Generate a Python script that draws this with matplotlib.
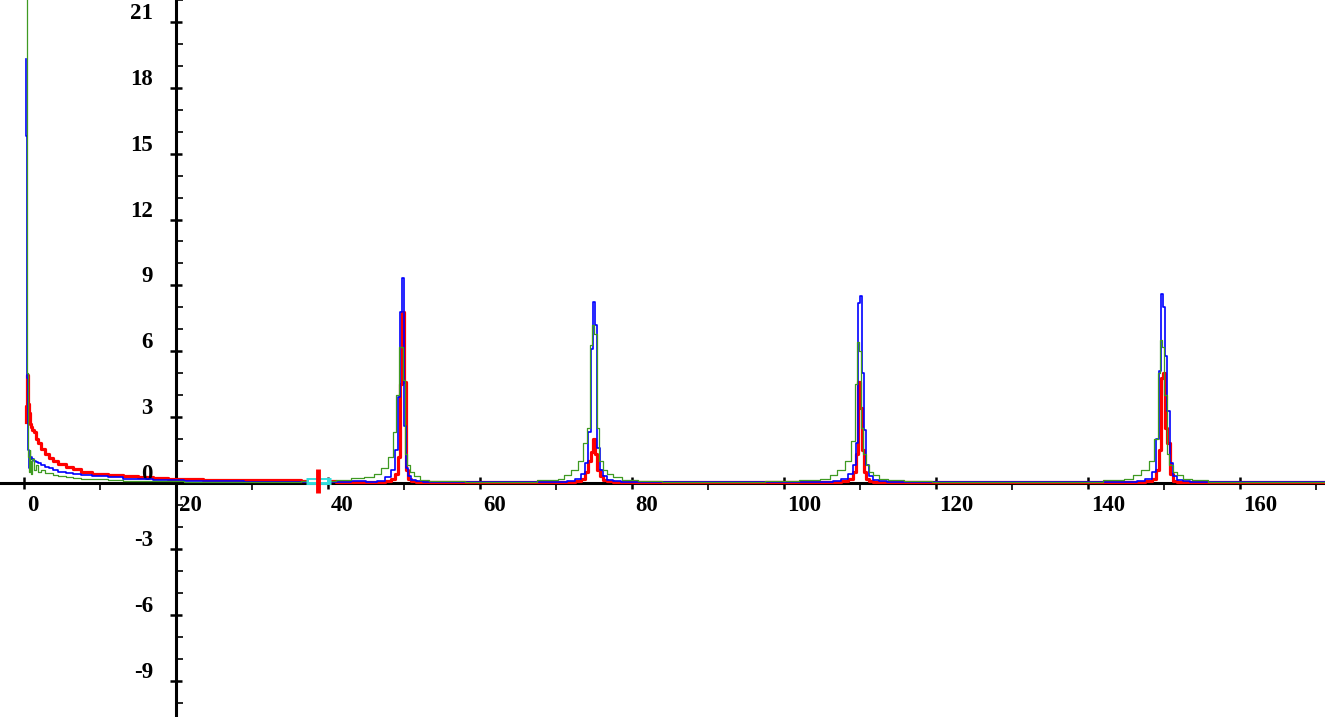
import matplotlib
matplotlib.use("Agg")
import matplotlib.pyplot as plt
from matplotlib.ticker import MultipleLocator

# frequency axis segments
low_x = [0.3, 0.35, 0.4, 0.45, 0.5, 0.6, 0.7, 0.8, 0.9, 1.0, 1.2, 1.4, 1.7, 2.0, 2.5,
         3.0, 3.5, 4.0, 5.0, 6.0, 7.0, 8.0, 10, 12, 14, 16, 18, 20, 22, 25, 28, 30,
         32, 35, 38, 40, 42, 44]
peak1_x = [46, 47, 48, 48.6, 49.0, 49.3, 49.6, 49.8, 50.1, 50.4, 50.7, 51.2, 52, 53, 54]
mid1_x = [56, 60, 65, 70]
peak2_x = [71, 72, 73, 73.6, 74.0, 74.4, 74.7, 75.0, 75.3, 75.6, 76.0, 76.5, 77, 78, 79]
mid2_x = [82, 86, 90, 95, 100, 104]
peak3_x = [106, 107, 108, 108.8, 109.3, 109.6, 109.9, 110.1, 110.4, 110.7, 111.0, 111.5, 112, 113, 114]
mid3_x = [117, 122, 128, 134, 140, 144]
peak4_x = [146, 147, 148, 148.8, 149.2, 149.5, 149.8, 150.0, 150.3, 150.6, 151.0, 151.5, 152, 153, 154]
tail_x = [157, 161, 165, 172]

# the green spectrum sits on a slightly different grid around the peaks
green_peak1_x = [45.5, 46.5, 47.5, 48.3, 48.8, 49.2, 49.5, 49.7, 50.0, 50.3, 50.6, 51.0, 51.6, 52.5, 54]
green_peak2_x = [70.5, 71.5, 72.5, 73.3, 73.9, 74.3, 74.6, 74.9, 75.2, 75.5, 75.9, 76.4, 77, 78, 79.5]
green_peak3_x = [105.5, 106.5, 107.5, 108.5, 109.1, 109.5, 109.8, 110.0, 110.3, 110.6, 110.9, 111.4, 112, 113, 114.5]
green_peak4_x = [145.5, 146.5, 147.5, 148.5, 149.0, 149.4, 149.7, 149.9, 150.2, 150.5, 150.9, 151.4, 152, 153, 154.5]

blue_low = [19.3, 15.8, 9.9, 4.8, 2.7, 1.5, 0.7, 0.95, 1.1, 1.2, 1.1, 1.0, 0.95, 0.9, 0.8,
            0.73, 0.66, 0.6, 0.52, 0.46, 0.41, 0.37, 0.3, 0.25, 0.2, 0.17, 0.14, 0.12,
            0.1, 0.08, 0.07, 0.06, 0.06, 0.05, 0.05, 0.05, 0.06, 0.08]
red_low = [2.8, 3.5, 4.9, 4.9, 4.2, 3.6, 3.2, 2.9, 2.7, 2.55, 2.4, 2.3, 2.0, 1.8, 1.55,
           1.3, 1.15, 1.02, 0.88, 0.75, 0.62, 0.52, 0.42, 0.35, 0.3, 0.26, 0.22, 0.2,
           0.17, 0.15, 0.14, 0.13, 0.12, 0.12, 0.1, 0.08, 0.06, 0.05]
green_low = [23, 23, 12, 5, 2.5, 1.2, 0.5, 1.5, 1.0, 0.4, 1.1, 0.6, 0.8, 0.5, 0.6,
             0.45, 0.45, 0.38, 0.32, 0.28, 0.24, 0.2, 0.16, 0.13, 0.1, 0.09, 0.08, 0.07,
             0.06, 0.05, 0.05, 0.05, 0.05, 0.06, 0.07, 0.1, 0.15, 0.22]

blue_p1 = [0.05, 0.1, 0.25, 0.6, 1.5, 3.9, 7.8, 9.35, 2.6, 0.7, 0.3, 0.15, 0.08, 0.05, 0.03]
red_p1 = [0.05, 0.05, 0.08, 0.2, 0.4, 1.2, 4.5, 7.8, 4.6, 0.6, 0.2, 0.1, 0.05, 0.03, 0.03]
green_p1 = [0.25, 0.4, 0.7, 1.2, 2.3, 4.0, 6.2, 6.2, 4.7, 1.3, 0.8, 0.5, 0.3, 0.15, 0.1]

blue_m1 = [0.04, 0.05, 0.04, 0.05]
red_m1 = [0.04, 0.03, 0.05, 0.04]
green_m1 = [0.07, 0.05, 0.06, 0.12]

blue_p2 = [0.05, 0.1, 0.2, 0.4, 0.9, 2.3, 6.1, 8.25, 7.2, 1.6, 0.6, 0.3, 0.15, 0.08, 0.05]
red_p2 = [0.03, 0.05, 0.1, 0.2, 0.5, 1.0, 1.4, 2.0, 1.3, 0.6, 0.3, 0.15, 0.08, 0.05, 0.03]
green_p2 = [0.2, 0.35, 0.6, 1.0, 1.8, 2.5, 6.3, 7.2, 6.8, 2.5, 1.0, 0.6, 0.4, 0.25, 0.15]

blue_m2 = [0.04, 0.05, 0.04, 0.05, 0.04, 0.05]
red_m2 = [0.04, 0.05, 0.04, 0.03, 0.05, 0.04]
green_m2 = [0.08, 0.06, 0.05, 0.05, 0.07, 0.12]

blue_p3 = [0.05, 0.1, 0.2, 0.4, 0.8, 1.8, 8.2, 8.5, 5.0, 2.4, 0.8, 0.3, 0.15, 0.08, 0.05]
red_p3 = [0.03, 0.05, 0.1, 0.2, 0.5, 1.3, 4.6, 3.4, 1.5, 0.5, 0.2, 0.1, 0.05, 0.03, 0.03]
green_p3 = [0.2, 0.35, 0.6, 1.0, 1.9, 4.5, 6.4, 6.0, 2.5, 1.3, 0.8, 0.5, 0.35, 0.2, 0.15]

blue_m3 = [0.04, 0.05, 0.04, 0.04, 0.05, 0.04]
red_m3 = [0.04, 0.05, 0.04, 0.05, 0.04, 0.04]
green_m3 = [0.08, 0.06, 0.05, 0.05, 0.06, 0.12]

blue_p4 = [0.05, 0.1, 0.2, 0.5, 2.0, 5.1, 8.6, 8.0, 5.8, 3.3, 0.9, 0.3, 0.15, 0.08, 0.05]
red_p4 = [0.03, 0.05, 0.1, 0.2, 0.6, 1.5, 4.8, 5.0, 2.5, 1.8, 0.4, 0.1, 0.05, 0.03, 0.03]
green_p4 = [0.2, 0.35, 0.6, 1.0, 2.0, 5.0, 6.5, 6.2, 4.0, 1.3, 0.8, 0.5, 0.35, 0.2, 0.15]

blue_tail = [0.04, 0.04, 0.05, 0.04]
red_tail = [0.04, 0.05, 0.04, 0.04]
green_tail = [0.06, 0.05, 0.05, 0.05]

# cursor marker
cursor_x, cursor_y = 38.7, 0.1

x_tick_labels = [0, 20, 40, 60, 80, 100, 120, 140, 160]
y_tick_labels = [-9, -6, -3, 0, 3, 6, 9, 12, 15, 18, 21]

freq = low_x + peak1_x + mid1_x + peak2_x + mid2_x + peak3_x + mid3_x + peak4_x + tail_x
green_freq = (low_x + green_peak1_x + mid1_x + green_peak2_x + mid2_x + green_peak3_x
              + mid3_x + green_peak4_x + tail_x)
blue = blue_low + blue_p1 + blue_m1 + blue_p2 + blue_m2 + blue_p3 + blue_m3 + blue_p4 + blue_tail
red = red_low + red_p1 + red_m1 + red_p2 + red_m2 + red_p3 + red_m3 + red_p4 + red_tail
green = green_low + green_p1 + green_m1 + green_p2 + green_m2 + green_p3 + green_m3 + green_p4 + green_tail

fig = plt.figure(figsize=(13.25, 7.17), dpi=100)
ax = fig.add_axes([0, 0, 1, 1])

ax.plot(freq, red, color="#ff0000", lw=2.3, drawstyle="steps-mid", zorder=3)
ax.plot(freq, blue, color="#0000ff", lw=1.2, drawstyle="steps-mid", zorder=4)
ax.plot(green_freq, green, color="#3f9a22", lw=0.9, drawstyle="steps-mid", zorder=5)

ax.plot(cursor_x, cursor_y, marker="_", color="#33dddd", markersize=18, mew=5, zorder=6)
ax.plot(cursor_x, cursor_y, marker="_", color="white", markersize=13, mew=1.5, zorder=6)
ax.plot(cursor_x, cursor_y, marker="|", color="#ff0000", markersize=17, mew=3.5, zorder=7)

ax.set_xlim(-3.16, 171.2)
ax.set_ylim(-10.66, 22.0)

for side in ["top", "right"]:
    ax.spines[side].set_visible(False)
ax.spines["left"].set_position(("data", 20))
ax.spines["bottom"].set_position(("data", 0))
for side in ["left", "bottom"]:
    ax.spines[side].set_linewidth(2.2)
    ax.spines[side].set_zorder(2)

ax.xaxis.set_major_locator(MultipleLocator(20))
ax.xaxis.set_minor_locator(MultipleLocator(10))
ax.yaxis.set_major_locator(MultipleLocator(3))
ax.yaxis.set_minor_locator(MultipleLocator(1))
ax.tick_params(which="major", direction="inout", length=9, width=1.8,
               labelbottom=False, labelleft=False)
ax.tick_params(axis="x", which="minor", direction="out", length=5, width=1.2)
ax.tick_params(axis="y", which="minor", direction="in", length=5, width=1.2)

font = dict(family="Liberation Serif", fontweight="bold", fontsize=16.5)
for v in x_tick_labels:
    ax.annotate(str(v), xy=(v, 0), xytext=(3, -12), textcoords="offset pixels",
                ha="left", va="top", **font)
for v in y_tick_labels:
    ax.annotate(str(v), xy=(20, v), xytext=(-23, 3), textcoords="offset pixels",
                ha="right", va="baseline", **font)

fig.savefig("out.png", dpi=100)
